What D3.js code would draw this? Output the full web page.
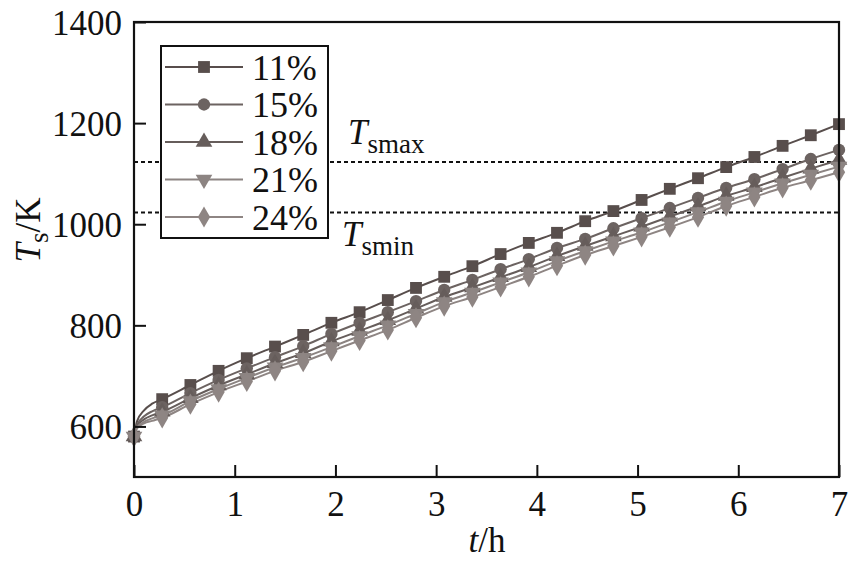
<!DOCTYPE html>
<html>
<head>
<meta charset="utf-8">
<script src="https://cdn.jsdelivr.net/npm/d3@7"></script>
<style>
  html, body { margin: 0; padding: 0; background: #fff; }
  svg { display: block; }
  svg text { font-family: 'Liberation Serif', 'Times New Roman', Times, serif !important; fill: #111; }
</style>
</head>
<body>
<svg id="chart" width="851" height="562" font-family="Liberation Serif"></svg>
<script>
// ---- data ----
const times = [0, 0.28, 0.56, 0.84, 1.12, 1.40, 1.68, 1.96, 2.24, 2.52, 2.80, 3.08, 3.36,
               3.64, 3.92, 4.20, 4.48, 4.76, 5.04, 5.32, 5.60, 5.88, 6.16, 6.44, 6.72, 7.00];
const seriesNames = ["11%", "15%", "18%", "21%", "24%"];
const s11 = [580, 654, 682, 710, 735, 758, 781, 805, 826, 850, 874, 896, 917, 941, 963, 983,
             1006, 1026, 1048, 1070, 1091, 1113, 1133, 1155, 1176, 1198];
const s15 = [580, 638, 666, 692, 715, 737, 759, 783, 805, 826, 848, 870, 890, 911, 931, 953,
             971, 992, 1012, 1032, 1052, 1072, 1089, 1109, 1129, 1147];
const s18 = [580, 629, 656, 681, 703, 725, 745, 768, 789, 810, 833, 856, 875, 895, 915, 937,
             957, 976, 995, 1015, 1035, 1056, 1073, 1092, 1110, 1127];
const s21 = [580, 622, 650, 674, 696, 717, 736, 757, 779, 800, 823, 846, 865, 885, 905, 927,
             947, 966, 984, 1004, 1024, 1045, 1063, 1081, 1098, 1114];
const s24 = [580, 617, 644, 668, 689, 710, 728, 749, 770, 791, 815, 838, 856, 876, 896, 918,
             939, 957, 975, 994, 1014, 1036, 1054, 1072, 1087, 1103];
// early part of each curve (line only, no markers), read from the steep start
const earlyTimes = [0.03, 0.10, 0.18];
const e11 = [610, 632, 645];
const e15 = [603, 620, 630];
const e18 = [600, 614, 622];
const e21 = [598, 609, 616];
const e24 = [596, 606, 611];
const xTicks = [0, 1, 2, 3, 4, 5, 6, 7];
const yTicks = [600, 800, 1000, 1200, 1400];
const refLines = [{ value: 1123, label: "smax" }, { value: 1023, label: "smin" }];

const seriesValues = [s11, s15, s18, s21, s24];
const earlyValues = [e11, e15, e18, e21, e24];
const colors = ["#584e4c", "#6c6361", "#665d5b", "#8c8482", "#8e8583"];
const symbols = [d3.symbolSquare, d3.symbolCircle, d3.symbolTriangle, "tri-down", d3.symbolDiamond];
const FONT = "'Liberation Serif', 'Times New Roman', Times, serif";

// ---- layout ----
const svg = d3.select("#chart");
const m = { left: 134, right: 839, top: 22, bottom: 477 };
const x = d3.scaleLinear().domain([0, 7]).range([m.left, m.right]);
const y = d3.scaleLinear().domain([500, 1400]).range([m.bottom, m.top]);

function symbolPath(sym, size) {
  return d3.symbol(sym === "tri-down" ? d3.symbolTriangle : sym, size)();
}
function symbolTransform(sym, cx, cy) {
  return sym === "tri-down" ? `translate(${cx},${cy}) rotate(180)` : `translate(${cx},${cy})`;
}
const symSize = [140, 120, 120, 120, 130];

// reference dashed lines
refLines.forEach(r => {
  svg.append("line")
    .attr("x1", m.left).attr("x2", m.right)
    .attr("y1", y(r.value)).attr("y2", y(r.value))
    .attr("stroke", "#111").attr("stroke-width", 2).attr("stroke-dasharray", "4,3");
});

// series
const line = d3.line().x(d => x(d[0])).y(d => y(d[1])).curve(d3.curveMonotoneX);
seriesValues.forEach((vals, i) => {
  const pts = times.map((t, k) => [t, vals[k]]);
  const early = earlyTimes.map((t, k) => [t, earlyValues[i][k]]);
  const all = [pts[0], ...early, ...pts.slice(1)];
  svg.append("path").datum(all)
    .attr("d", line).attr("fill", "none")
    .attr("stroke", colors[i]).attr("stroke-width", 2);
});
seriesValues.forEach((vals, i) => {
  svg.append("g").selectAll("path").data(times.map((t, k) => [t, vals[k]]))
    .join("path")
    .attr("d", symbolPath(symbols[i], symSize[i]))
    .attr("transform", d => symbolTransform(symbols[i], x(d[0]), y(d[1])))
    .attr("fill", colors[i]);
});

// axes (ticks inward)
const xAxis = d3.axisBottom(x).tickValues(xTicks).tickSize(-12).tickPadding(14).tickFormat(d3.format("d"));
const gx = svg.append("g").attr("transform", `translate(0,${m.bottom})`).call(xAxis);
const yAxis = d3.axisLeft(y).tickValues(yTicks).tickSize(-12).tickPadding(12).tickFormat(d3.format("d"));
const gy = svg.append("g").attr("transform", `translate(${m.left},0)`).call(yAxis);
[gx, gy].forEach(g => {
  g.attr("font-family", FONT).attr("font-size", 35);
  g.select(".domain").remove();
  g.selectAll(".tick line").attr("stroke", "#111").attr("stroke-width", 2);
  g.selectAll(".tick text").attr("fill", "#111");
});
gx.selectAll(".tick text").attr("dy", "0.71em");
gy.selectAll(".tick text").attr("dy", "0.35em");

// frame
svg.append("rect").attr("x", m.left).attr("y", m.top)
  .attr("width", m.right - m.left).attr("height", m.bottom - m.top)
  .attr("fill", "none").attr("stroke", "#111").attr("stroke-width", 2.2);

// reference labels
const lab1 = svg.append("text").attr("x", 348).attr("y", 144);
lab1.append("tspan").text("T").style("font-style", "italic").style("font-size", "35px");
lab1.append("tspan").text("smax").attr("dy", 9).style("font-size", "27px");
const lab2 = svg.append("text").attr("x", 342).attr("y", 246);
lab2.append("tspan").text("T").style("font-style", "italic").style("font-size", "35px");
lab2.append("tspan").text("smin").attr("dy", 9).style("font-size", "27px");

// legend
const lg = svg.append("g");
lg.append("rect").attr("x", 161).attr("y", 46).attr("width", 167).attr("height", 192)
  .attr("fill", "#fff").attr("stroke", "#111").attr("stroke-width", 2);
seriesNames.forEach((name, i) => {
  const cy = 67 + i * 37.5;
  lg.append("line").attr("x1", 165).attr("x2", 243).attr("y1", cy).attr("y2", cy)
    .attr("stroke", colors[i]).attr("stroke-width", 2);
  lg.append("path").attr("d", symbolPath(symbols[i], symSize[i]))
    .attr("transform", symbolTransform(symbols[i], 204, cy)).attr("fill", colors[i]);
  lg.append("text").attr("x", 252).attr("y", cy).attr("dy", "0.35em")
    .style("font-size", "36px").text(name);
});

// axis titles
const xt = svg.append("text").attr("x", 487).attr("y", 552).attr("text-anchor", "middle");
xt.append("tspan").text("t").style("font-style", "italic").style("font-size", "35px");
xt.append("tspan").text("/h").style("font-size", "35px");

const yt = svg.append("text").attr("transform", "translate(40,230) rotate(-90)").attr("text-anchor", "middle");
yt.append("tspan").text("T").style("font-style", "italic").style("font-size", "35px");
yt.append("tspan").text("s").attr("dy", 8).style("font-size", "27px");
yt.append("tspan").text("/K").attr("dy", -8).style("font-size", "35px");

svg.selectAll("text").attr("font-family", FONT);
</script>
</body>
</html>
